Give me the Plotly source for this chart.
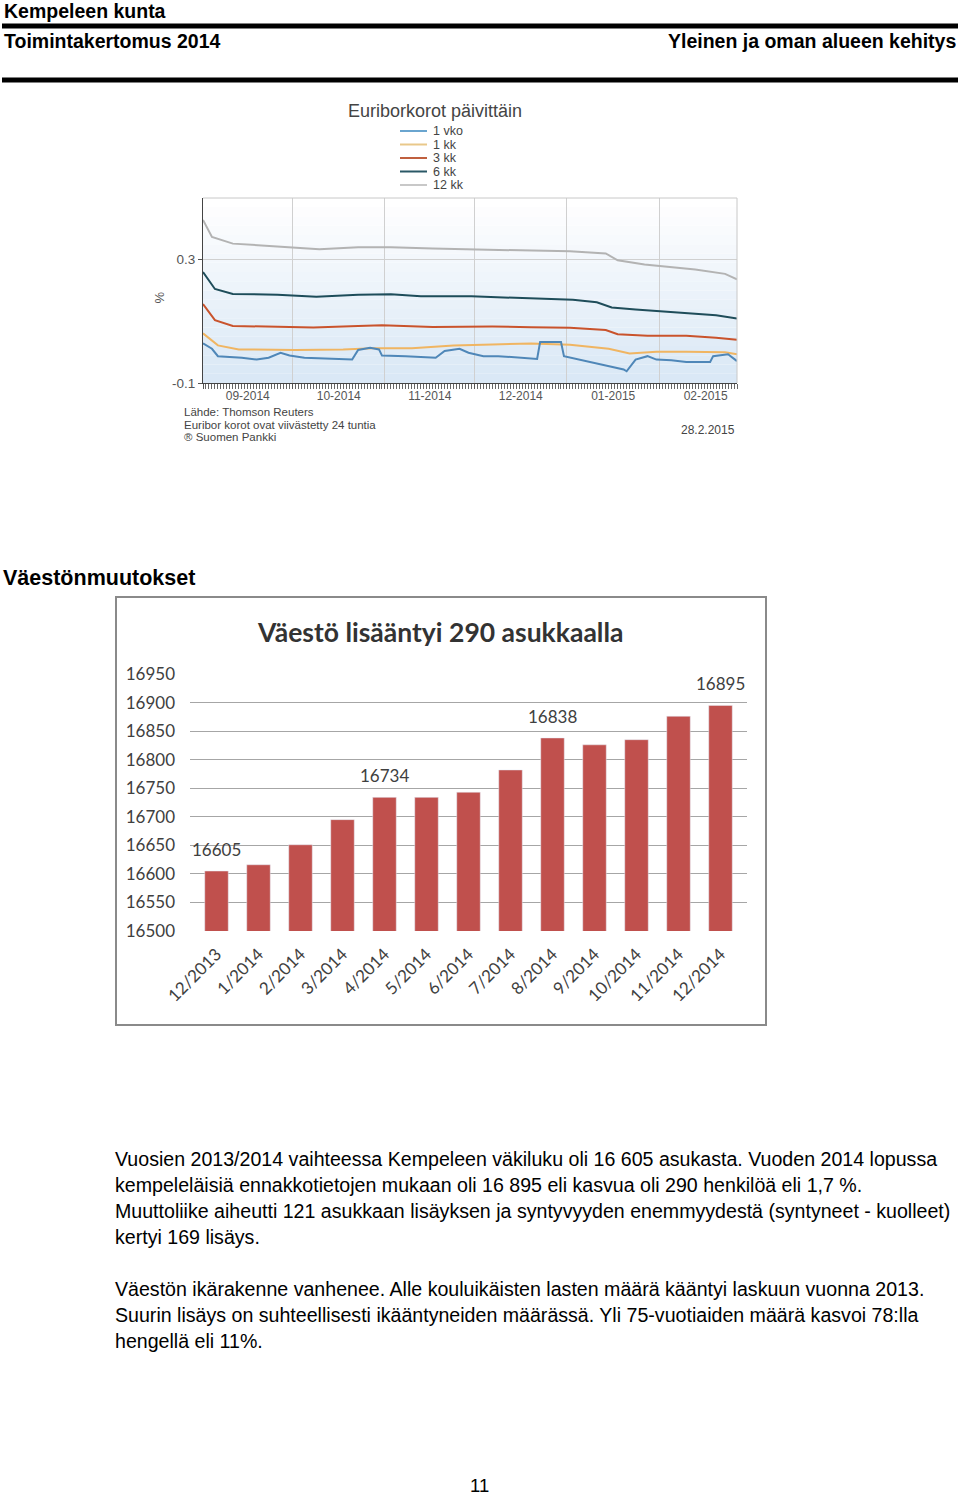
import plotly.graph_objects as go

W, H = 960, 1497

# --- Euribor series ---
d_1vko = ["2014-09-01", "2014-09-04", "2014-09-06", "2014-09-14", "2014-09-19", "2014-09-23", "2014-09-27",
          "2014-09-30", "2014-10-05", "2014-10-15", "2014-10-21", "2014-10-23", "2014-10-27", "2014-10-30",
          "2014-10-31", "2014-11-08", "2014-11-18", "2014-11-21", "2014-11-26", "2014-11-29", "2014-12-04",
          "2014-12-09", "2014-12-15", "2014-12-22", "2014-12-23", "2014-12-30", "2014-12-31", "2015-01-05",
          "2015-01-12", "2015-01-20", "2015-01-21", "2015-01-24", "2015-01-28", "2015-01-31", "2015-02-05",
          "2015-02-10", "2015-02-18", "2015-02-19", "2015-02-24", "2015-02-27"]
v_1vko = [0.029, 0.011, -0.013, -0.018, -0.024, -0.018, -0.002,
          -0.011, -0.018, -0.022, -0.024, 0.007, 0.014, 0.009,
          -0.011, -0.013, -0.018, 0.004, 0.011, -0.002, -0.013,
          -0.013, -0.018, -0.022, 0.033, 0.033, -0.013, -0.024,
          -0.040, -0.056, -0.062, -0.024, -0.013, -0.024, -0.026,
          -0.032, -0.032, -0.013, -0.007, -0.029]

d_1kk = ["2014-09-01", "2014-09-06", "2014-09-13", "2014-10-02", "2014-10-18", "2014-10-28", "2014-11-10",
         "2014-11-24", "2014-12-07", "2014-12-20", "2015-01-02", "2015-01-15", "2015-01-22", "2015-01-31",
         "2015-02-10", "2015-02-23", "2015-02-27"]
v_1kk = [0.061, 0.022, 0.009, 0.007, 0.009, 0.013, 0.013,
         0.022, 0.025, 0.028, 0.024, 0.011, -0.004, 0.001,
         0.001, 0.000, -0.007]

d_3kk = ["2014-09-01", "2014-09-05", "2014-09-11", "2014-09-23", "2014-10-08", "2014-10-23", "2014-10-31",
         "2014-11-17", "2014-12-07", "2014-12-20", "2015-01-02", "2015-01-14", "2015-01-18", "2015-01-28",
         "2015-02-10", "2015-02-20", "2015-02-27"]
v_3kk = [0.156, 0.104, 0.085, 0.083, 0.080, 0.085, 0.087,
         0.082, 0.083, 0.081, 0.079, 0.072, 0.058, 0.053,
         0.053, 0.047, 0.040]

d_6kk = ["2014-09-01", "2014-09-05", "2014-09-11", "2014-09-26", "2014-10-09", "2014-10-23", "2014-11-03",
         "2014-11-13", "2014-11-30", "2014-12-13", "2014-12-26", "2015-01-03", "2015-01-11", "2015-01-16",
         "2015-01-24", "2015-02-02", "2015-02-13", "2015-02-20", "2015-02-27"]
v_6kk = [0.260, 0.205, 0.189, 0.186, 0.180, 0.186, 0.188,
         0.181, 0.181, 0.177, 0.172, 0.170, 0.162, 0.145,
         0.138, 0.132, 0.127, 0.120, 0.109]

d_12kk = ["2014-09-01", "2014-09-04", "2014-09-11", "2014-09-19", "2014-10-02", "2014-10-10", "2014-10-23",
          "2014-11-03", "2014-11-17", "2014-12-07", "2014-12-20", "2015-01-02", "2015-01-14", "2015-01-18",
          "2015-01-27", "2015-02-04", "2015-02-13", "2015-02-23", "2015-02-27"]
v_12kk = [0.429, 0.374, 0.352, 0.347, 0.338, 0.334, 0.340,
          0.340, 0.336, 0.332, 0.331, 0.327, 0.320, 0.298,
          0.284, 0.276, 0.268, 0.254, 0.236]

series_names = ["1 vko", "1 kk", "3 kk", "6 kk", "12 kk"]
series_colors = ["#4f87b8", "#f0b562", "#c9532c", "#1f4d5a", "#b3b3b3"]

# --- Population ---
months = ["12/2013", "1/2014", "2/2014", "3/2014", "4/2014", "5/2014", "6/2014",
          "7/2014", "8/2014", "9/2014", "10/2014", "11/2014", "12/2014"]
population = [16605, 16616, 16651, 16695, 16734, 16734, 16743,
              16782, 16838, 16826, 16835, 16876, 16895]
labelled = [0, 4, 8, 12]

para1 = ["Vuosien 2013/2014 vaihteessa Kempeleen väkiluku oli 16 605 asukasta. Vuoden 2014 lopussa",
         "kempeleläisiä ennakkotietojen mukaan oli 16 895 eli kasvua oli 290 henkilöä eli 1,7 %.",
         "Muuttoliike aiheutti 121 asukkaan lisäyksen ja syntyvyyden enemmyydestä (syntyneet - kuolleet)",
         "kertyi 169 lisäys."]
para2 = ["Väestön ikärakenne vanhenee. Alle kouluikäisten lasten määrä kääntyi laskuun vuonna 2013.",
         "Suurin lisäys on suhteellisesti ikääntyneiden määrässä. Yli 75-vuotiaiden määrä kasvoi 78:lla",
         "hengellä eli 11%."]

ARIAL = "Liberation Sans, Arial, sans-serif"
CALIBRI = "Lato, Open Sans, sans-serif"


def px(x):
    return x / W


def py(y):
    return 1 - y / H


fig = go.Figure()

all_series = [(d_1vko, v_1vko), (d_1kk, v_1kk), (d_3kk, v_3kk), (d_6kk, v_6kk), (d_12kk, v_12kk)]
for i in reversed(range(len(all_series))):
    d, v = all_series[i]
    fig.add_trace(go.Scatter(x=d, y=v, mode="lines", name=series_names[i],
                             line=dict(color=series_colors[i], width=2),
                             xaxis="x", yaxis="y", showlegend=False))

fig.add_trace(go.Bar(x=months, y=population, marker_color="#c0504d",
                     xaxis="x2", yaxis="y2", showlegend=False))

annotations = []
shapes = []


def txt(x, y, text, size, bold=False, anchor="left", family=ARIAL, color="black"):
    if bold:
        text = "<b>" + text + "</b>"
    annotations.append(dict(x=px(x), y=py(y), xref="paper", yref="paper", text=text,
                            showarrow=False, xanchor=anchor, yanchor="middle",
                            font=dict(family=family, size=size, color=color)))


# page header
txt(2, 11, "Kempeleen kunta", 19.5, bold=True)
txt(2, 41, "Toimintakertomus 2014", 19.5, bold=True)
txt(958, 41, "Yleinen ja oman alueen kehitys", 19.5, bold=True, anchor="right")
shapes.append(dict(type="line", xref="paper", yref="paper", x0=px(2), x1=px(958), y0=py(26), y1=py(26),
                   line=dict(color="black", width=5)))
shapes.append(dict(type="line", xref="paper", yref="paper", x0=px(2), x1=px(958), y0=py(80), y1=py(80),
                   line=dict(color="black", width=5)))

# euribor chart texts
txt(435, 111, "Euriborkorot päivittäin", 18, anchor="center", color="#444")
legend_colors = ["#6aa5cf", "#e9c88a", "#c0603f", "#2a5866", "#c8c8c8"]
for i, name in enumerate(series_names):
    yy = 131 + i * 13.5
    shapes.append(dict(type="line", xref="paper", yref="paper", x0=px(400), x1=px(427), y0=py(yy), y1=py(yy),
                       line=dict(color=legend_colors[i], width=2)))
    txt(431, yy, name, 12.5, color="#444")
annotations.append(dict(x=px(149), y=py(290), xref="paper", yref="paper", text="%", textangle=-90,
                        showarrow=False, font=dict(family=ARIAL, size=13, color="#555")))
txt(182, 412, "Lähde: Thomson Reuters", 11.5, color="#444")
txt(182, 424.5, "Euribor korot ovat viivästetty 24 tuntia", 11.5, color="#444")
txt(182, 437, "® Suomen Pankki", 11.5, color="#444")
txt(737, 430, "28.2.2015", 12, anchor="right", color="#444")

# gradient background of the euribor plot
n_bands = 20
for b in range(n_bands):
    t = b / (n_bands - 1)
    r = int(218 + (255 - 218) * t)
    g = int(232 + (255 - 232) * t)
    bl = int(246 + (255 - 246) * t)
    shapes.append(dict(type="rect", xref="x domain", yref="y domain", x0=0, x1=1,
                       y0=b / n_bands, y1=(b + 1) / n_bands, layer="below",
                       fillcolor=f"rgb({r},{g},{bl})", line=dict(width=0)))
# light frame on top and right of the euribor plot
shapes.append(dict(type="line", xref="x domain", yref="y domain", x0=0, x1=1, y0=1, y1=1,
                   line=dict(color="#c8c8c8", width=1)))
shapes.append(dict(type="line", xref="x domain", yref="y domain", x0=1, x1=1, y0=0, y1=1,
                   line=dict(color="#c8c8c8", width=1)))

# section title and chart frame
txt(1, 578, "Väestönmuutokset", 21.5, bold=True)
shapes.append(dict(type="rect", xref="paper", yref="paper", x0=px(116), x1=px(766), y0=py(597), y1=py(1025),
                   line=dict(color="#8a8a8a", width=2)))
txt(440, 632, "<b>Väestö lisääntyi 290 asukkaalla</b>", 26.5, anchor="center", family=CALIBRI, color="#333")

for i in labelled:
    annotations.append(dict(x=months[i], y=population[i], xref="x2", yref="y2", text=str(population[i]),
                            showarrow=False, yanchor="bottom", yshift=9,
                            font=dict(family=CALIBRI, size=17, color="#404040")))

# paragraphs
for i, line in enumerate(para1):
    txt(113, 1159 + i * 26, line, 19.6)
for i, line in enumerate(para2):
    txt(113, 1289 + i * 26, line, 19.6)
txt(479, 1485, "11", 18.5, anchor="center")

fig.update_layout(
    width=W, height=H,
    margin=dict(l=0, r=0, t=0, b=0, pad=0, autoexpand=False),
    paper_bgcolor="white", plot_bgcolor="white",
    bargap=0.44,
    showlegend=False,
    font=dict(family=ARIAL),
    xaxis=dict(domain=[px(203), px(737)], anchor="y", type="date", automargin=False,
               range=["2014-09-01", "2015-02-27"],
               dtick="M1", tick0="2014-09-01", tickformat="%m-%Y", ticklabelmode="period",
               ticks="outside", ticklen=5, tickcolor="#555", ticklabelstandoff=-3,
               tickfont=dict(size=12, color="#555"),
               showgrid=True, gridcolor="#d0d0d0",
               showline=True, linecolor="#444", mirror=False,
               minor=dict(ticks="outside", ticklen=5, dtick=86400000, tick0="2014-09-01",
                          tickcolor="#666", showgrid=False)),
    yaxis=dict(domain=[py(383), py(198)], anchor="x", range=[-0.1, 0.5], automargin=False,
               tickvals=[-0.1, 0.3], ticktext=["-0.1", "0.3"],
               ticks="outside", ticklen=4, tickcolor="#555",
               tickfont=dict(size=13.5, color="#555"),
               showgrid=True, gridcolor="#d0d0d0", zeroline=False,
               showline=True, linecolor="#444", mirror=False),
    xaxis2=dict(domain=[px(190), px(747)], anchor="y2", type="category", automargin=False,
                tickangle=-45, tickfont=dict(family=CALIBRI, size=17, color="#404040"),
                ticklabelstandoff=9,
                showline=False, showgrid=False, ticks=""),
    yaxis2=dict(domain=[py(931), py(674)], anchor="x2", range=[16500, 16950], dtick=50,
                automargin=False, tickformat="d",
                tickfont=dict(family=CALIBRI, size=17, color="#404040"),
                ticklabelstandoff=14,
                showgrid=True, gridcolor="#a6a6a6", zeroline=False, showline=False),
    annotations=annotations,
    shapes=shapes,
)

fig.write_html("out.html", config={"displayModeBar": False},
               post_script="document.body.style.margin='0px';")
